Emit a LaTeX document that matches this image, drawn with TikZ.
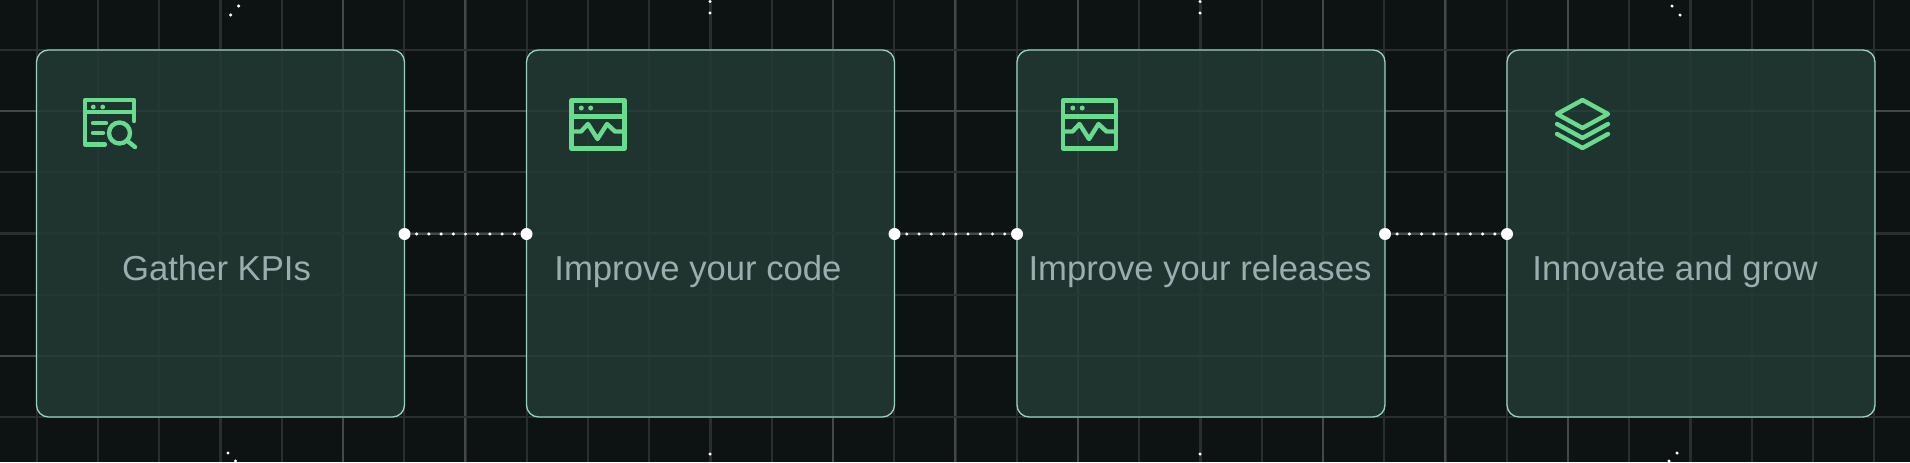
\documentclass[tikz,border=0pt]{standalone}
\usepackage{fontspec}
\setmainfont{Liberation Sans}
\usetikzlibrary{calc}
\definecolor{pagebg}{HTML}{0D1213}
\definecolor{gridline}{HTML}{2A2E2E}
\definecolor{gridbright}{HTML}{444848}
\definecolor{cardfill}{HTML}{233A35}
\definecolor{cardline}{HTML}{98D2BC}
\definecolor{icongreen}{HTML}{68DC8E}
\definecolor{cardtext}{HTML}{9AAEB0}
\tikzset{
  card/.style={draw=cardline,line width=1pt,fill=cardfill,fill opacity=0.84,rounded corners=9pt,minimum width=276pt,minimum height=275.25pt,inner sep=0pt,outer sep=0pt,anchor=north west},
  cardlabel/.style={text=cardtext,font=\fontsize{26pt}{28pt}\selectfont,inner sep=0pt,anchor=base},
  portdot/.style={circle,fill=white,inner sep=0pt,minimum size=9pt},
  sparkdot/.style={circle,fill=white,inner sep=0pt,minimum size=2.6pt},
  iconline/.style={draw=icongreen,line width=3.3pt,line join=round,line cap=round},
}
\begin{document}
\begin{tikzpicture}[x=0.75pt,y=-0.75pt]
\useasboundingbox (0,0) rectangle (1910,462);
\fill [pagebg] (0,0) rectangle (1910,462);
% grid
\foreach \col in {-1,...,30}
  \draw [gridline,line width=1.7pt] ({36.7+61.25*\col},0) -- ({36.7+61.25*\col},462);
\foreach \col in {5,7,13,15,17,21,23,25}
  \draw [gridbright,line width=1.5pt] ({36.7+61.25*\col},0) -- ({36.7+61.25*\col},462);
\foreach \row in {0,...,6}
  \draw [gridline,line width=1.7pt] (0,{50+61.17*\row}) -- (1910,{50+61.17*\row});
\foreach \row in {1,5}
  \draw [gridbright,line width=1.5pt] (0,{50+61.17*\row}) -- (1910,{50+61.17*\row});
% cards
\node [card] (gather) at (36.5,50) {};
\node [card] (code) at (526.5,50) {};
\node [card] (releases) at (1017,50) {};
\node [card] (innovate) at (1507,50) {};
% labels
\node [cardlabel] (gatherlabel) at (216.5,280) {Gather KPIs};
\node [cardlabel] (codelabel) at (698,280) {Improve your code};
\node [cardlabel] (releaseslabel) at (1200,280) {Improve your releases};
\node [cardlabel] (innovatelabel) at (1675,280) {Innovate and grow};
% connectors
\foreach \from/\to [count=\link] in {gather/code,code/releases,releases/innovate} {
  \node [portdot] (out\link) at (\from.east |- 0,234) {};
  \node [portdot] (in\link) at (\to.west |- 0,234) {};
  \draw [gridbright,line width=1.2pt] (out\link) -- (in\link);
  \foreach \t in {0.1,0.2,...,0.91}
    \node [sparkdot] at ($(out\link)!\t!(in\link)$) {};
}
% search icon
\begin{scope}[shift={(85,100)}]
\draw [iconline] (49,21) -- (49,0) -- (0,0) -- (0,44.5) -- (20,44.5);
\draw [iconline] (0,12) -- (49,12);
\draw [iconline] (8,23) -- (21,23) (8,33) -- (18,33);
\draw [iconline] (34.5,33) circle (10.5);
\draw [iconline] (42.5,41) -- (50,47);
\fill [icongreen] (8.3,7) circle (2.4) (17.7,7) circle (2.4);
\end{scope}
% window icons
\foreach \ox/\oy in {571.5/100.5,1063/100.5} {
  \begin{scope}[shift={(\ox,\oy)}]
  \draw [iconline] (0,0) rectangle (53,48);
  \draw [iconline] (0,16) -- (53,16);
  \draw [iconline] (0,31) -- (9.5,31) -- (16.5,23.5) -- (26,38.5) -- (35.5,23.5) -- (43.5,31) -- (53,31);
  \fill [icongreen] (9.8,7.5) circle (2.5) (19.2,7.5) circle (2.5);
  \end{scope}
}
% stack icon
\begin{scope}[shift={(1557,114)}]
\draw [iconline] (0,0) -- (25.5,-14) -- (51,0) -- (25.5,14) -- cycle;
\draw [iconline] (0,10) -- (25.5,24) -- (51,10);
\draw [iconline] (0,20) -- (25.5,34) -- (51,20);
\end{scope}
% stray dots
\foreach \sx/\sy in {238.7/6,230.7/15,710/1.5,710/13,1200/1.5,1200/13,1672/6,1680/15,228/453,235.5/461,710/454,1200/454,1677/453,1669/461}
  \node [sparkdot] at (\sx,\sy) {};
\end{tikzpicture}
\end{document}
